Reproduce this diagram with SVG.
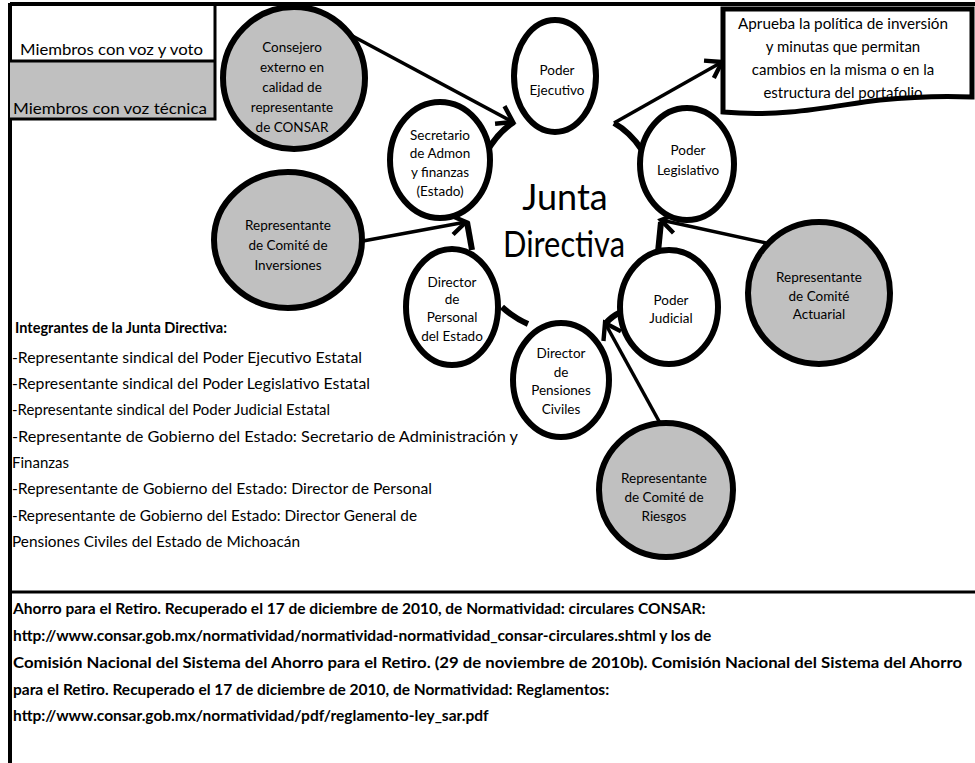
<svg xmlns="http://www.w3.org/2000/svg" width="975" height="763" viewBox="0 0 975 763">
<defs>
<style>
.t{font-family:Lato,"Liberation Sans",sans-serif;fill:#000}
.c{font-size:13.5px;text-anchor:middle}
.l{font-size:16px}
.f{font-size:15.5px;font-weight:bold}
.g{fill:#c0c0c0;stroke:#000;stroke-width:6}
.w{fill:#fff;stroke:#000;stroke-width:6}
.ring{fill:none;stroke:#000;stroke-width:6}
.ln{fill:none;stroke:#000;stroke-width:3.5;marker-end:url(#chev)}
</style>
<marker id="chev" markerUnits="userSpaceOnUse" markerWidth="30" markerHeight="30" refX="0" refY="0" viewBox="-16 -12 20 24" orient="auto">
<path d="M-12,-8 L0,0 L-12,8" fill="none" stroke="#000" stroke-width="3.5"/>
</marker>
</defs>
<rect width="975" height="763" fill="#fff"/>
<g id="frame" fill="none" stroke="#000">
<path d="M10,4 H975 M10,3 V763" stroke-width="4"/>
<path d="M10,592 H975" stroke-width="3"/>
</g>
<g id="legend">
<rect x="10" y="61" width="205" height="58" fill="#c0c0c0"/>
<path d="M215,4 V119 H10 M10,61 H215" fill="none" stroke="#000" stroke-width="3"/>
<text class="t l" x="20" y="55" textLength="183" lengthAdjust="spacingAndGlyphs">Miembros con voz y voto</text>
<text class="t l" x="13" y="114" textLength="194" lengthAdjust="spacingAndGlyphs">Miembros con voz técnica</text>
</g>
<g id="connectors">
<path class="ring" d="M486,153 Q498,132 514,122"/>
<path class="ring" d="M614,123 Q630,132 642,150"/>
<path class="ring" d="M658,252 L661,222"/>
<path class="ring" d="M621,312 Q612,316 605,324"/>
<path class="ring" d="M502,307 Q514,318 528,324"/>
<path class="ring" d="M472,250 L467,222"/>
<path class="ln" d="M345,32 L513,122"/>
<path class="ln" d="M614,123 L722,62"/>
<path class="ln" d="M363,241 L466,222"/>
<path class="ln" d="M766,243 L661,220"/>
<path class="ln" d="M660,423 L605,323"/>
</g>
<g id="consejero">
<circle class="g" cx="294" cy="78" r="71"/>
<text class="t c" x="292" y="52">Consejero</text>
<text class="t c" x="292" y="72">externo en</text>
<text class="t c" x="292" y="92">calidad de</text>
<text class="t c" x="292" y="112">representante</text>
<text class="t c" x="292" y="132">de CONSAR</text>
</g>
<g id="inversiones">
<ellipse class="g" cx="288" cy="240" rx="74" ry="68"/>
<text class="t c" x="288" y="230">Representante</text>
<text class="t c" x="288" y="250">de Comité de</text>
<text class="t c" x="288" y="270">Inversiones</text>
</g>
<g id="actuarial">
<circle class="g" cx="819" cy="293" r="71"/>
<text class="t c" x="819" y="282">Representante</text>
<text class="t c" x="819" y="301">de Comité</text>
<text class="t c" x="819" y="319">Actuarial</text>
</g>
<g id="riesgos">
<circle class="g" cx="666" cy="490" r="67"/>
<text class="t c" x="664" y="483">Representante</text>
<text class="t c" x="664" y="502">de Comité de</text>
<text class="t c" x="664" y="521">Riesgos</text>
</g>
<g id="ejecutivo">
<ellipse class="w" cx="555" cy="76" rx="41" ry="56"/>
<text class="t c" x="557" y="75">Poder</text>
<text class="t c" x="557" y="95">Ejecutivo</text>
</g>
<g id="legislativo">
<ellipse class="w" cx="687" cy="164" rx="47" ry="56"/>
<text class="t c" x="688" y="155">Poder</text>
<text class="t c" x="688" y="175">Legislativo</text>
</g>
<g id="secretario">
<ellipse class="w" cx="440" cy="160" rx="50" ry="58"/>
<text class="t c" x="440" y="140">Secretario</text>
<text class="t c" x="440" y="158">de Admon</text>
<text class="t c" x="440" y="177">y finanzas</text>
<text class="t c" x="440" y="196">(Estado)</text>
</g>
<g id="personal">
<ellipse class="w" cx="452" cy="307" rx="46" ry="58"/>
<text class="t c" x="452" y="287">Director</text>
<text class="t c" x="452" y="304">de</text>
<text class="t c" x="452" y="322">Personal</text>
<text class="t c" x="452" y="341">del Estado</text>
</g>
<g id="judicial">
<ellipse class="w" cx="669" cy="307" rx="49" ry="57"/>
<text class="t c" x="671" y="305">Poder</text>
<text class="t c" x="671" y="323">Judicial</text>
</g>
<g id="pensiones">
<ellipse class="w" cx="561" cy="380" rx="48" ry="57"/>
<text class="t c" x="561" y="358">Director</text>
<text class="t c" x="561" y="377">de</text>
<text class="t c" x="561" y="395">Pensiones</text>
<text class="t c" x="561" y="414">Civiles</text>
</g>
<g id="junta">
<text class="t" x="565" y="210" font-size="36" text-anchor="middle">Junta</text>
<text class="t" x="564" y="257" font-size="36" text-anchor="middle" textLength="122" lengthAdjust="spacingAndGlyphs">Directiva</text>
</g>
<g id="aprueba">
<path d="M723,9 H972 V97 C950,96 920,96 880,100 C840,104 790,118 723,112 Z" fill="#fff" stroke="#000" stroke-width="5"/>
<text class="t" font-size="15" text-anchor="middle" x="843" y="29" textLength="210" lengthAdjust="spacingAndGlyphs">Aprueba la política de inversión</text>
<text class="t" font-size="15" text-anchor="middle" x="843" y="52">y minutas  que permitan</text>
<text class="t" font-size="15" text-anchor="middle" x="843" y="75">cambios en la misma  o en la</text>
<text class="t" font-size="15" text-anchor="middle" x="843" y="98">estructura del portafolio</text>
</g>
<g id="integrantes">
<text class="t l" x="15" y="333" font-weight="bold" textLength="212" lengthAdjust="spacingAndGlyphs">Integrantes de la Junta Directiva:</text>
<text class="t l" x="12" y="363" textLength="350" lengthAdjust="spacingAndGlyphs">-Representante sindical del Poder Ejecutivo Estatal</text>
<text class="t l" x="12" y="389" textLength="358" lengthAdjust="spacingAndGlyphs">-Representante sindical del Poder Legislativo Estatal</text>
<text class="t l" x="12" y="415" textLength="318" lengthAdjust="spacingAndGlyphs">-Representante sindical del Poder Judicial Estatal</text>
<text class="t l" x="12" y="442" textLength="506" lengthAdjust="spacingAndGlyphs">-Representante de Gobierno del Estado: Secretario de Administración y</text>
<text class="t l" x="12" y="468" textLength="57" lengthAdjust="spacingAndGlyphs">Finanzas</text>
<text class="t l" x="12" y="494" textLength="420" lengthAdjust="spacingAndGlyphs">-Representante de Gobierno del Estado: Director de Personal</text>
<text class="t l" x="12" y="521" textLength="405" lengthAdjust="spacingAndGlyphs">-Representante de Gobierno del Estado: Director General de</text>
<text class="t l" x="12" y="547" textLength="288" lengthAdjust="spacingAndGlyphs">Pensiones Civiles del Estado de Michoacán</text>
</g>
<g id="referencias">
<text class="t f" x="13" y="614">Ahorro para el Retiro. Recuperado el 17 de diciembre de 2010, de Normatividad: circulares CONSAR:</text>
<text class="t f" x="13" y="641">http://www.consar.gob.mx/normatividad/normatividad-normatividad_consar-circulares.shtml y los de</text>
<text class="t f" x="13" y="668" textLength="949" lengthAdjust="spacingAndGlyphs">Comisión Nacional del Sistema del Ahorro para el Retiro. (29 de noviembre de 2010b). Comisión Nacional del Sistema del Ahorro</text>
<text class="t f" x="13" y="695">para el Retiro. Recuperado el 17 de diciembre de 2010, de Normatividad: Reglamentos:</text>
<text class="t f" x="13" y="721">http://www.consar.gob.mx/normatividad/pdf/reglamento-ley_sar.pdf</text>
</g>
</svg>
